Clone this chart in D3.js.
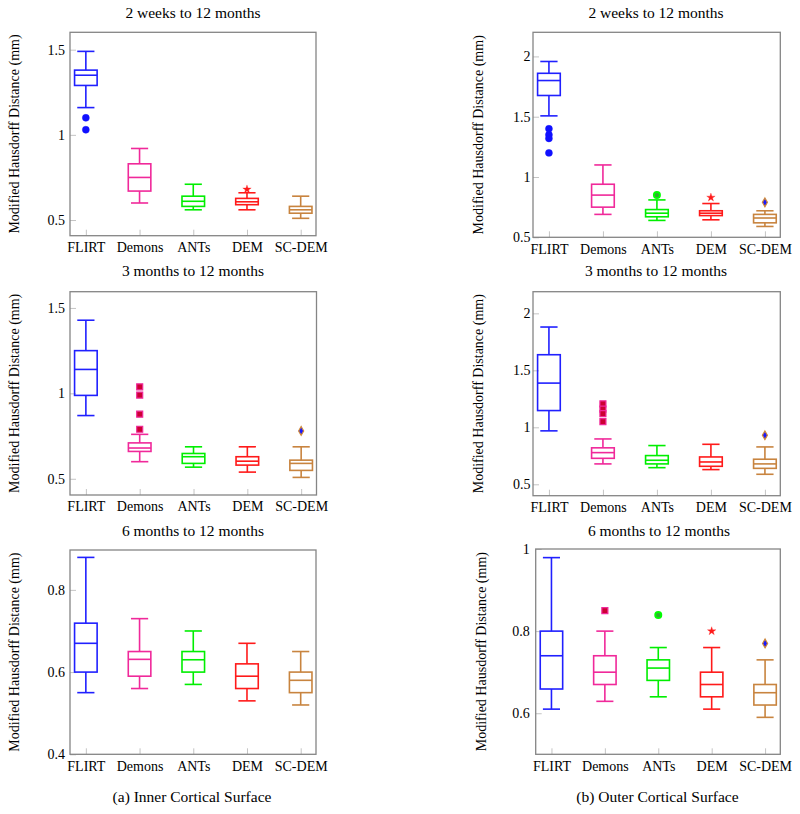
<!DOCTYPE html>
<html>
<head>
<meta charset="utf-8">
<script src="https://cdn.jsdelivr.net/npm/d3@7"></script>
<style>
  html, body { margin: 0; padding: 0; background: #fff; }
  svg { display: block; font-family: "Liberation Serif", "DejaVu Serif", serif; }
</style>
</head>
<body>
<svg id="chart" width="800" height="814"></svg>
<script>
// ---------------- data ----------------
const categories = ["FLIRT", "Demons", "ANTs", "DEM", "SC-DEM"];
const panelTitles = ["2 weeks to 12 months", "3 months to 12 months", "6 months to 12 months"];
const captions = ["(a) Inner Cortical Surface", "(b) Outer Cortical Surface"];
const yLabel = "Modified Hausdorff Distance (mm)";

// stats per method: [lower whisker, Q1, median, Q3, upper whisker]
const innerWeeks2 = [[1.16,1.29,1.35,1.38,1.49],[0.60,0.67,0.75,0.83,0.92],[0.56,0.58,0.61,0.64,0.71],[0.56,0.59,0.607,0.627,0.66],[0.51,0.54,0.56,0.58,0.64]];
const innerWeeks2Out = [[1.10,1.03],[],[],[0.68],[]];
const outerWeeks2 = [[1.507,1.676,1.80,1.86,1.958],[0.69,0.75,0.85,0.94,1.10],[0.64,0.67,0.70,0.73,0.81],[0.645,0.68,0.70,0.72,0.78],[0.59,0.62,0.66,0.69,0.72]];
const outerWeeks2Out = [[1.40,1.35,1.32,1.20],[],[0.85],[0.83],[0.79]];

const innerMonths3 = [[0.87,0.988,1.14,1.25,1.428],[0.60,0.66,0.68,0.71,0.76],[0.568,0.59,0.629,0.648,0.687],[0.539,0.58,0.603,0.629,0.687],[0.508,0.549,0.59,0.609,0.687]];
const innerMonths3Out = [[],[1.038,0.99,0.878,0.79],[],[],[0.78]];
const outerMonths3 = [[0.969,1.147,1.388,1.637,1.88],[0.679,0.728,0.778,0.82,0.898],[0.646,0.679,0.711,0.752,0.84],[0.629,0.658,0.696,0.74,0.851],[0.588,0.64,0.679,0.72,0.828]];
const outerMonths3Out = [[],[1.206,1.16,1.12,1.05],[],[],[0.93]];

const innerMonths6 = [[0.55,0.60,0.67,0.719,0.879],[0.56,0.59,0.631,0.65,0.73],[0.57,0.60,0.63,0.65,0.70],[0.53,0.56,0.59,0.62,0.67],[0.52,0.55,0.58,0.60,0.65]];
const innerMonths6Out = [[],[],[],[],[]];
const outerMonths6 = [[0.61,0.659,0.74,0.80,0.979],[0.629,0.67,0.70,0.74,0.80],[0.64,0.68,0.71,0.73,0.76],[0.61,0.64,0.67,0.70,0.76],[0.59,0.62,0.65,0.67,0.73]];
const outerMonths6Out = [[],[0.85],[0.839],[0.80],[0.77]];

// y ticks per panel
const ticksWide = [0.5, 1, 1.5];
const ticksWideOuter = [0.5, 1, 1.5, 2];
const ticksInner6 = [0.4, 0.6, 0.8];
const ticksOuter6 = [0.6, 0.8, 1];

// ---------------- styles ----------------
const boxColors = ["#2020ff", "#f0299a", "#00ee00", "#ff1a1a", "#c8843f"];

// ---------------- layout ----------------
const panels = [
  { stats: innerWeeks2,  out: innerWeeks2Out,  ticks: ticksWide,      domain: [0.408, 1.602], x0: 70,    x1: 316,   y0: 32.3,  y1: 235.7, title: panelTitles[0], tx: 193, ty: 17.5, lx: 13.8, labGap: 5 },
  { stats: outerWeeks2,  out: outerWeeks2Out,  ticks: ticksWideOuter, domain: [0.5, 2.2],     x0: 533,   x1: 780.3, y0: 32.3,  y1: 237.3, title: panelTitles[0], tx: 656, ty: 17.5, lx: 478,  labGap: 2.5 },
  { stats: innerMonths3, out: innerMonths3Out, ticks: ticksWide,      domain: [0.405, 1.595], x0: 70,    x1: 316.5, y0: 291.7, y1: 495,   title: panelTitles[1], tx: 193, ty: 276,  lx: 13.8, labGap: 5 },
  { stats: outerMonths3, out: outerMonths3Out, ticks: ticksWideOuter, domain: [0.4, 2.19],    x0: 533,   x1: 780.3, y0: 291.7, y1: 495.7, title: panelTitles[1], tx: 656, ty: 276,  lx: 478,  labGap: 2.5 },
  { stats: innerMonths6, out: innerMonths6Out, ticks: ticksInner6,    domain: [0.4, 0.897],   x0: 70,    x1: 316,   y0: 550,   y1: 754.3, title: panelTitles[2], tx: 193, ty: 535.5, lx: 13.8, labGap: 5 },
  { stats: outerMonths6, out: outerMonths6Out, ticks: ticksOuter6,    domain: [0.5, 1.0],     x0: 535.7, x1: 780.3, y0: 549,   y1: 754.3, title: panelTitles[2], tx: 659, ty: 535.5, lx: 481,  labGap: 6 }
];

const markerTypes = [d3.symbolCircle, d3.symbolSquare, d3.symbolCircle, d3.symbolStar, d3.symbolDiamond];
const markerSizes = [38, 36, 30, 22, 22];
const markerFill = ["#1010ff", "#cc0033", "#33aa33", "#ff1a1a", "#1a1aff"];
const markerStroke = ["#1010ff", "#f0299a", "#00ff00", "#ff1a1a", "#d08a3a"];
const markerStrokeW = [0.5, 1.2, 1.8, 0.3, 1.2];

const svg = d3.select("#chart");

panels.forEach(p => {
  const g = svg.append("g");
  const x = d3.scaleLinear().domain([0.705, 5.285]).range([p.x0, p.x1]);
  const y = d3.scaleLinear().domain(p.domain).range([p.y1, p.y0]);

  // y axis (ticks inside)
  const yAxis = d3.axisLeft(y).tickValues(p.ticks).tickFormat(d3.format("")).tickSize(-6).tickPadding(p.labGap);
  const ya = g.append("g").attr("transform", `translate(${p.x0},0)`).call(yAxis);
  ya.select(".domain").remove();
  ya.selectAll(".tick line").attr("stroke", "#c4c4c4").attr("stroke-width", 1);
  ya.selectAll(".tick text").attr("font-family", "Liberation Serif").attr("font-size", 14).attr("fill", "#000");

  // x axis (category ticks inside)
  const xAxis = d3.axisBottom(x).tickValues([1,2,3,4,5]).tickFormat(d => categories[d-1]).tickSize(-6).tickPadding(6.5);
  const xa = g.append("g").attr("transform", `translate(0,${p.y1})`).call(xAxis);
  xa.select(".domain").remove();
  xa.selectAll(".tick line").attr("stroke", "#c4c4c4").attr("stroke-width", 1);
  xa.selectAll(".tick text").attr("font-family", "Liberation Serif").attr("font-size", 14).attr("fill", "#000");

  // frame
  g.append("rect").attr("x", p.x0).attr("y", p.y0).attr("width", p.x1 - p.x0).attr("height", p.y1 - p.y0)
    .attr("fill", "none").attr("stroke", "#858585").attr("stroke-width", 1.3);

  // title
  g.append("text").attr("x", p.tx).attr("y", p.ty).attr("text-anchor", "middle")
    .attr("font-size", 15.5).text(p.title);

  // y label
  g.append("text").attr("transform", `translate(${p.lx},${(p.y0 + p.y1) / 2}) rotate(-90)`)
    .attr("text-anchor", "middle").attr("dy", "0.35em").attr("font-size", 14).text(yLabel);

  // boxes
  p.stats.forEach((s, i) => {
    const c = boxColors[i];
    const xi = i + 1;
    const bg = g.append("g").attr("stroke", c).attr("stroke-width", 1.6).attr("fill", "none");
    const [lo, q1, med, q3, hi] = s;
    bg.append("rect").attr("x", x(xi - 0.21)).attr("width", x(xi + 0.21) - x(xi - 0.21))
      .attr("y", y(q3)).attr("height", y(q1) - y(q3));
    bg.append("line").attr("x1", x(xi - 0.21)).attr("x2", x(xi + 0.21)).attr("y1", y(med)).attr("y2", y(med));
    bg.append("line").attr("x1", x(xi)).attr("x2", x(xi)).attr("y1", y(q3)).attr("y2", y(hi));
    bg.append("line").attr("x1", x(xi)).attr("x2", x(xi)).attr("y1", y(q1)).attr("y2", y(lo));
    bg.append("line").attr("x1", x(xi - 0.16)).attr("x2", x(xi + 0.16)).attr("y1", y(hi)).attr("y2", y(hi));
    bg.append("line").attr("x1", x(xi - 0.16)).attr("x2", x(xi + 0.16)).attr("y1", y(lo)).attr("y2", y(lo));

    // outliers
    const sym = d3.symbol().type(markerTypes[i]).size(markerSizes[i]);
    g.selectAll(null).data(p.out[i]).enter().append("path")
      .attr("d", sym)
      .attr("transform", v => `translate(${x(xi)},${y(v)})`)
      .attr("fill", markerFill[i]).attr("stroke", markerStroke[i]).attr("stroke-width", markerStrokeW[i]);
  });
});

// captions
svg.append("text").attr("x", 192).attr("y", 802).attr("text-anchor", "middle").attr("font-size", 15.5).text(captions[0]);
svg.append("text").attr("x", 657.5).attr("y", 802).attr("text-anchor", "middle").attr("font-size", 15.5).text(captions[1]);
</script>
</body>
</html>
